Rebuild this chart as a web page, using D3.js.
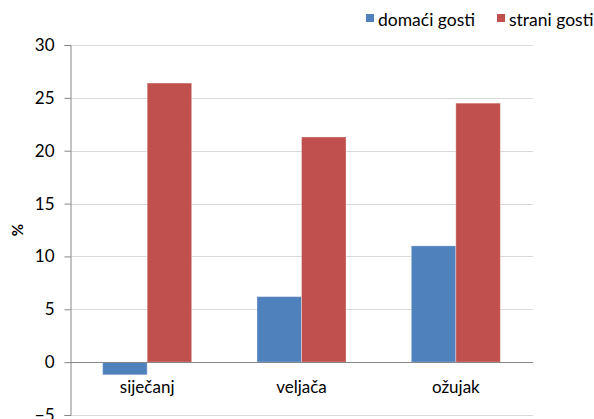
<!DOCTYPE html>
<html>
<head>
<meta charset="utf-8">
<script src="https://cdn.jsdelivr.net/npm/d3@7"></script>
<style>
  body { margin: 0; background: #fff; }
  svg { display: block; font-family: Lato, "Open Sans", sans-serif; }
</style>
</head>
<body>
<script>
const categories = ["siječanj", "veljača", "ožujak"];
const seriesNames = ["domaći gosti", "strani gosti"];
const domaci = [-1.2, 6.2, 11.0];
const strani = [26.4, 21.3, 24.5];
const yTicks = [-5, 0, 5, 10, 15, 20, 25, 30];
const colors = ["#4f81bd", "#c0504d"];

const width = 594, height = 419;
const margin = { top: 45, right: 61, left: 70 };

const svg = d3.select("body").append("svg")
  .attr("width", width)
  .attr("height", height);

const y = d3.scaleLinear()
  .domain([-5, 30])
  .range([415, margin.top]);

const x = d3.scaleBand()
  .domain(categories)
  .range([margin.left, width - margin.right])
  .paddingInner(0.423)
  .paddingOuter(0.2115);

const xs = d3.scaleBand()
  .domain(seriesNames)
  .range([0, x.bandwidth()]);

// gridlines
svg.append("g")
  .selectAll("line")
  .data(yTicks)
  .join("line")
  .attr("x1", margin.left)
  .attr("x2", width - margin.right)
  .attr("y1", d => Math.round(y(d)) + 0.5)
  .attr("y2", d => Math.round(y(d)) + 0.5)
  .attr("stroke", "#d9d9d9");

// bars
const table = categories.map((c, i) => ({ cat: c, vals: [domaci[i], strani[i]] }));
svg.append("g")
  .selectAll("g")
  .data(table)
  .join("g")
  .attr("transform", d => `translate(${x(d.cat)},0)`)
  .selectAll("rect")
  .data(d => d.vals.map((v, j) => ({ name: seriesNames[j], v, j })))
  .join("rect")
  .attr("x", d => xs(d.name))
  .attr("width", xs.bandwidth())
  .attr("y", d => y(Math.max(0, d.v)))
  .attr("height", d => Math.abs(y(d.v) - y(0)))
  .attr("fill", d => colors[d.j])
  .attr("stroke", "rgba(255,255,255,0.35)")
  .attr("stroke-width", 1);

// y axis
const gy = svg.append("g")
  .attr("transform", `translate(${margin.left + 0.5},0)`)
  .call(d3.axisLeft(y).tickValues(yTicks).tickSize(6).tickPadding(10));
gy.select(".domain").attr("stroke", "#868686");
gy.selectAll(".tick line").attr("stroke", "#868686");
gy.selectAll(".tick text").attr("font-size", 17).attr("fill", "#000")
  .style("font-family", "Lato, sans-serif");

// zero line
svg.append("line")
  .attr("x1", margin.left)
  .attr("x2", width - margin.right)
  .attr("y1", Math.round(y(0)) + 0.5)
  .attr("y2", Math.round(y(0)) + 0.5)
  .attr("stroke", "#868686");

// category labels
svg.append("g")
  .selectAll("text")
  .data(categories)
  .join("text")
  .attr("x", d => x(d) + x.bandwidth() / 2)
  .attr("y", y(0) + 31)
  .attr("text-anchor", "middle")
  .attr("font-size", 17)
  .text(d => d);

// y label
svg.append("text")
  .attr("transform", `translate(23,${(y(10) + y(15)) / 2}) rotate(-90)`)
  .attr("text-anchor", "middle")
  .attr("font-size", 15)
  .attr("font-weight", "bold")
  .text("%");

// legend
const legendX = [366, 497];
const legend = svg.append("g")
  .selectAll("g")
  .data(seriesNames)
  .join("g")
  .attr("transform", (d, i) => `translate(${legendX[i]},0)`);
legend.append("rect")
  .attr("y", 14)
  .attr("width", 8)
  .attr("height", 8)
  .attr("fill", (d, i) => colors[i]);
legend.append("text")
  .attr("x", 12)
  .attr("y", 26)
  .attr("font-size", 17.5)
  .text(d => d);
</script>
</body>
</html>
